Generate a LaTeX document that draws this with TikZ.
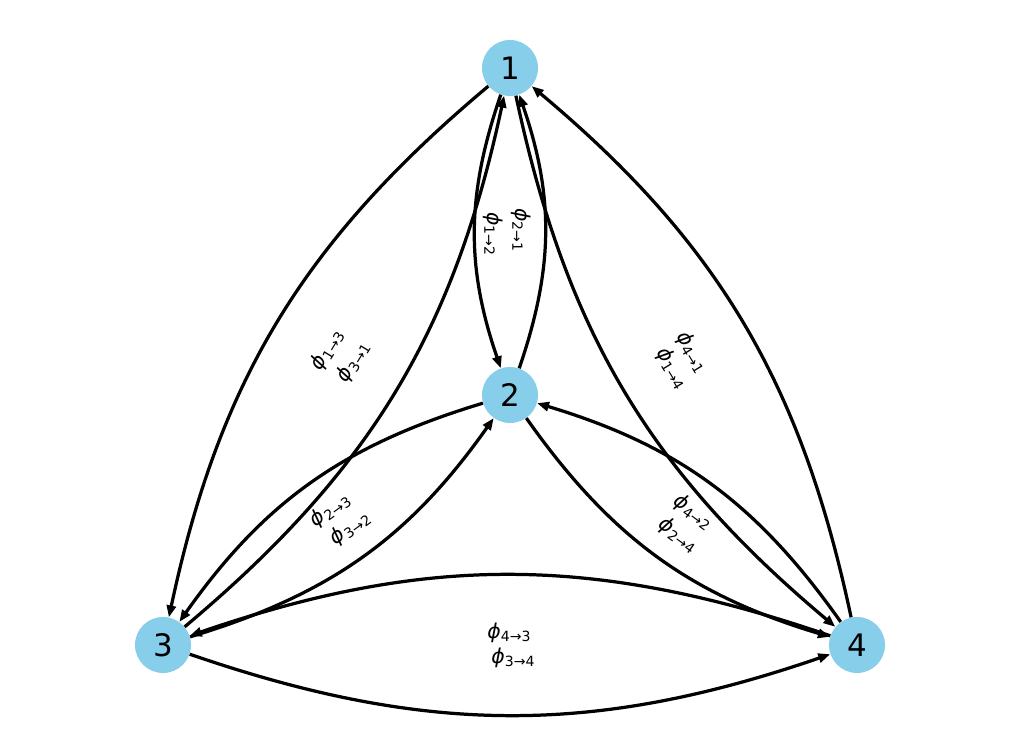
\documentclass[tikz,border=0pt]{standalone}
\usepackage{fontspec}
\setmainfont{DejaVu Sans}
\usetikzlibrary{arrows.meta}
\definecolor{nodeblue}{HTML}{87CEEB}
\newcommand{\phl}[2]{{\itshape ϕ}\raisebox{-0.15em}{\fontsize{10}{11}\selectfont #1→#2}}

\begin{document}
\begin{tikzpicture}[x=0.025cm,y=-0.025cm,
    vert/.style={circle,fill=nodeblue,inner sep=0pt,minimum size=1.4cm,font=\fontsize{22}{25}\selectfont},
    conn/.style={line width=2.3pt,-{Triangle[length=8.5pt,width=6.5pt]}},
    lab/.style={inner sep=0pt,font=\fontsize{14.5}{16}\selectfont}]
  \useasboundingbox (0,0) rectangle (1022,734);
  % vertices
  \node[vert] (v1) at (510,68) {1};
  \node[vert] (v2) at (510,395) {2};
  \node[vert] (v3) at (163,645) {3};
  \node[vert] (v4) at (857,645) {4};
  % directed edges, all bent to the right
  \foreach \a/\b in {1/2,2/1,1/3,3/1,1/4,4/1,2/3,3/2,2/4,4/2,3/4,4/3}{
    \draw[conn] (v\a) to[bend right=19] (v\b);
  }
  % edge labels
  \foreach \a/\b/\x/\y/\r in {1/2/493/234/-90,2/1/521/230/-90,
      1/3/327/350/59,3/1/353/362/59,4/1/692/352/-59,1/4/672/368/-59,
      2/3/330/510/36,3/2/350/528/36,4/2/693/512/-36,2/4/678/535/-36,
      4/3/509/633/0,3/4/513/658/0}{
    \node[lab,rotate=\r] (l\a\b) at (\x,\y) {\phl{\a}{\b}};
  }
\end{tikzpicture}
\end{document}
